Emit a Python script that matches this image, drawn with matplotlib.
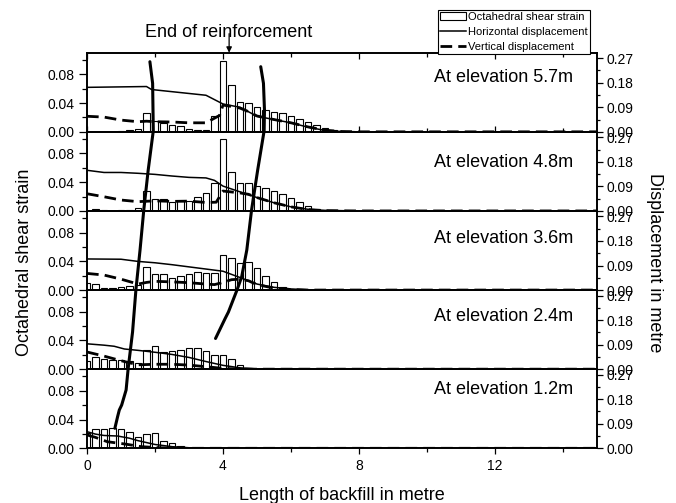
import numpy as np
import matplotlib
matplotlib.use("Agg")
import matplotlib.pyplot as plt
from matplotlib.patches import Patch
from matplotlib.lines import Line2D
from matplotlib.ticker import MultipleLocator, FixedLocator, FormatStrFormatter

plt.rcParams['font.family'] = ['Liberation Sans', 'DejaVu Sans']

# ---------------- data ----------------
elevations = ["At elevation 5.7m", "At elevation 4.8m", "At elevation 3.6m",
              "At elevation 2.4m", "At elevation 1.2m"]

bar_x = [0, 0.25, 0.5, 0.75, 1.0, 1.25, 1.5, 1.75, 2.0, 2.25, 2.5, 2.75, 3.0, 3.25, 3.5, 3.75,
         4.0, 4.25, 4.5, 4.75, 5.0, 5.25, 5.5, 5.75, 6.0, 6.25, 6.5, 6.75, 7.0, 7.25, 7.5, 7.75]

strain_57 = [0, 0, 0, 0, 0.0005, 0.0022, 0.0045, 0.026, 0.015, 0.012, 0.009, 0.0075, 0.0045, 0.0025, 0.002, 0.0226,
             0.098, 0.0645, 0.041, 0.0395, 0.035, 0.031, 0.028, 0.026, 0.0216, 0.018, 0.0136, 0.009, 0.005, 0.003, 0.0015, 0.0005]
strain_48 = [0, 0.0033, 0.001, 0.0005, 0.001, 0.002, 0.004, 0.028, 0.016, 0.016, 0.013, 0.0145, 0.0145, 0.019, 0.0246, 0.0386,
             0.100, 0.0535, 0.0386, 0.0386, 0.035, 0.0316, 0.0274, 0.0237, 0.0177, 0.0126, 0.0065, 0.0033, 0.002, 0.001, 0.0005, 0]
strain_36 = [0.0098, 0.0088, 0.0028, 0.0028, 0.0042, 0.0056, 0.0074, 0.0316, 0.0223, 0.0223, 0.0167, 0.0195, 0.0223, 0.025, 0.0237, 0.0233,
             0.0488, 0.0442, 0.038, 0.0386, 0.0307, 0.0195, 0.0107, 0.0042, 0.0014, 0.0005, 0, 0, 0, 0, 0, 0]
strain_24 = [0.0116, 0.0172, 0.014, 0.0126, 0.0126, 0.0112, 0.0084, 0.0265, 0.0316, 0.0242, 0.0256, 0.027, 0.0293, 0.0298, 0.0256, 0.02,
             0.0195, 0.0135, 0.0056, 0.001, 0, 0, 0, 0, 0, 0, 0, 0, 0, 0, 0, 0]
strain_12 = [0.021, 0.0274, 0.0274, 0.0288, 0.0274, 0.0228, 0.0153, 0.0195, 0.021, 0.0107, 0.0074, 0.0037, 0.001, 0, 0, 0,
             0, 0, 0, 0, 0, 0, 0, 0, 0, 0, 0, 0, 0, 0, 0, 0]

hor_x_57 = [0, 1.75, 1.9, 3.5, 4.0, 4.5, 5.0, 5.5, 6.0, 6.5, 7.0, 7.5, 8.0, 15]
hor_y_57 = [0.163, 0.166, 0.155, 0.134, 0.102, 0.090, 0.057, 0.045, 0.033, 0.017, 0.005, 0.001, 0, 0]
ver_x_57 = [0, 0.5, 1.0, 1.5, 1.75, 2.0, 2.5, 3.0, 3.5, 3.75, 3.9, 4.0, 4.25, 4.5, 4.75, 5.0, 5.5, 6.0, 6.5, 7.0, 7.5, 8, 15]
ver_y_57 = [0.057, 0.054, 0.043, 0.037, 0.039, 0.037, 0.036, 0.033, 0.033, 0.05, 0.06, 0.098, 0.093, 0.087, 0.074, 0.058,
            0.045, 0.033, 0.018, 0.006, 0.001, 0, 0]

hor_x_48 = [0, 0.5, 1, 1.5, 2, 2.5, 3, 3.5, 3.75, 4, 4.5, 5, 5.5, 6, 6.5, 7, 8, 15]
hor_y_48 = [0.149, 0.141, 0.141, 0.138, 0.134, 0.128, 0.123, 0.121, 0.112, 0.091, 0.070, 0.049, 0.030, 0.015, 0.006, 0.002, 0, 0]
ver_x_48 = [0, 0.5, 1, 1.5, 2, 2.5, 3, 3.5, 3.8, 4, 4.5, 4.75, 5, 5.5, 6, 6.5, 7, 8, 15]
ver_y_48 = [0.063, 0.052, 0.040, 0.034, 0.037, 0.035, 0.036, 0.031, 0.032, 0.073, 0.066, 0.061, 0.049, 0.030, 0.015, 0.005, 0.001, 0, 0]

hor_x_36 = [0, 1.0, 1.5, 2, 2.5, 3, 3.5, 4, 4.5, 5, 5.5, 6, 6.5, 7, 15]
hor_y_36 = [0.114, 0.113, 0.105, 0.100, 0.093, 0.085, 0.077, 0.069, 0.046, 0.022, 0.010, 0.004, 0.001, 0, 0]
ver_x_36 = [0, 0.5, 1, 1.5, 1.75, 2, 2.5, 3, 3.5, 3.75, 4, 4.25, 4.5, 4.75, 5, 5.5, 6, 6.5, 15]
ver_y_36 = [0.061, 0.055, 0.040, 0.022, 0.028, 0.032, 0.030, 0.027, 0.022, 0.020, 0.028, 0.038, 0.040, 0.034, 0.020, 0.007, 0.002, 0, 0]

hor_x_24 = [0, 0.5, 0.8, 1.1, 1.5, 2, 2.5, 3, 3.5, 4, 4.5, 5, 5.5, 15]
hor_y_24 = [0.093, 0.088, 0.084, 0.074, 0.069, 0.062, 0.054, 0.043, 0.028, 0.014, 0.005, 0.001, 0, 0]
ver_x_24 = [0, 0.5, 1, 1.5, 2, 2.5, 3, 3.5, 4, 4.5, 15]
ver_y_24 = [0.063, 0.048, 0.031, 0.016, 0.018, 0.018, 0.015, 0.009, 0.003, 0, 0]

hor_x_12 = [0, 0.25, 0.5, 0.9, 1.25, 1.5, 2.0, 2.5, 3.0, 3.5, 15]
hor_y_12 = [0.061, 0.052, 0.047, 0.045, 0.037, 0.028, 0.014, 0.006, 0.002, 0, 0]
ver_x_12 = [0, 0.25, 0.6, 1.1, 1.6, 2.0, 2.5, 15]
ver_y_12 = [0.049, 0.040, 0.024, 0.016, 0.006, 0.003, 0, 0]

# slip-surface curves across the stacked panels (x in metre, y in panel units: 0 = bottom panel base, 5 = top)
curveA_x = [1.85, 1.93, 1.95, 1.80, 1.67, 1.56, 1.44, 1.34, 1.21, 1.15, 1.02, 0.95, 0.90, 0.82]
curveA_y = [4.886, 4.613, 4.014, 3.517, 3.012, 2.506, 2.010, 1.470, 1.006, 0.737, 0.547, 0.484, 0.40, 0.253]
curveB_x = [5.11, 5.19, 5.22, 5.21, 5.02, 4.84, 4.70, 4.55, 4.42, 4.16, 4.06, 3.78]
curveB_y = [4.823, 4.613, 4.276, 4.014, 3.517, 3.012, 2.506, 2.169, 2.010, 1.723, 1.638, 1.388]

reinf_end_x = 4.18

strains = [strain_57, strain_48, strain_36, strain_24, strain_12]
hors = [(hor_x_57, hor_y_57), (hor_x_48, hor_y_48), (hor_x_36, hor_y_36), (hor_x_24, hor_y_24), (hor_x_12, hor_y_12)]
vers = [(ver_x_57, ver_y_57), (ver_x_48, ver_y_48), (ver_x_36, ver_y_36), (ver_x_24, ver_y_24), (ver_x_12, ver_y_12)]
label_y = [0.69, 0.61, 0.655, 0.662, 0.747]

# ---------------- figure ----------------
W, H = 676, 503
fig = plt.figure(figsize=(W / 100, H / 100), dpi=100)
L, R, B, T = 87 / W, 597 / W, 1 - 448.3 / H, 1 - 52.7 / H
axes = fig.subplots(5, 1, sharex=True, gridspec_kw=dict(hspace=0))
fig.subplots_adjust(left=L, right=R, bottom=B, top=T, hspace=0)

dash = (0, (4.2, 2.2))
for i, ax in enumerate(axes):
    ax.bar(bar_x, strains[i], width=0.2, facecolor='white', edgecolor='black', linewidth=0.8, zorder=2)
    ax.set_xlim(0, 15)
    ax.set_ylim(0, 0.11)
    ax.yaxis.set_major_locator(FixedLocator([0.0, 0.04, 0.08]))
    ax.yaxis.set_minor_locator(FixedLocator([0.02, 0.06, 0.10]))
    ax.yaxis.set_major_formatter(FormatStrFormatter('%.2f'))
    ax.xaxis.set_major_locator(MultipleLocator(4))
    ax.xaxis.set_minor_locator(MultipleLocator(2))
    ax.tick_params(axis='y', which='major', direction='out', length=6, width=0.9, labelsize=10, pad=3)
    ax.tick_params(axis='y', which='minor', direction='out', length=3.5, width=0.9)
    ax.tick_params(axis='x', which='both', direction='out', bottom=True, top=False, width=0.9)
    ax.tick_params(axis='x', which='major', length=4.5, labelsize=10, pad=3)
    ax.tick_params(axis='x', which='minor', length=3)
    for sp in ax.spines.values():
        sp.set_linewidth(1.2)
    ax2 = ax.twinx()
    ax2.set_ylim(0, 0.29)
    ax2.yaxis.set_major_locator(FixedLocator([0.0, 0.09, 0.18, 0.27]))
    ax2.yaxis.set_minor_locator(FixedLocator([0.045, 0.135, 0.225]))
    ax2.yaxis.set_major_formatter(FormatStrFormatter('%.2f'))
    ax2.tick_params(axis='y', which='major', direction='out', length=4.5, width=0.9, labelsize=10, pad=2)
    ax2.tick_params(axis='y', which='minor', direction='out', length=2.5, width=0.9)
    for sp in ax2.spines.values():
        sp.set_linewidth(1.2)
    ax2.plot(hors[i][0], hors[i][1], color='black', lw=1.1, zorder=3)
    ax2.plot(vers[i][0], vers[i][1], color='black', lw=2.0, ls=dash, zorder=3)
    ax2.text(0.816, label_y[i], elevations[i], transform=ax2.transAxes, ha='center', va='center', fontsize=13)

axes[0].tick_params(axis='x', which='both', top=True, direction='in')
axes[0].tick_params(axis='x', which='both', bottom=True)
for ax in axes[:-1]:
    ax.tick_params(axis='x', labelbottom=False)

# overlay for slip curves
ov = fig.add_axes([L, B, R - L, T - B])
ov.set_xlim(0, 15)
ov.set_ylim(0, 5)
ov.axis('off')
ov.plot(curveA_x, curveA_y, color='black', lw=2.2, solid_capstyle='round')
ov.plot(curveB_x, curveB_y, color='black', lw=2.2, solid_capstyle='round')

# annotation
axes[0].annotate('', xy=(reinf_end_x, 1.0), xycoords=('data', 'axes fraction'),
                 xytext=(reinf_end_x, 1.0 + 19 / 79), textcoords=('data', 'axes fraction'),
                 arrowprops=dict(arrowstyle='-|>', color='black', lw=0.9, mutation_scale=8, shrinkA=0, shrinkB=0))
axes[0].text(reinf_end_x, 1.0 + 16 / 79, 'End of reinforcement', transform=axes[0].get_xaxis_transform(),
             ha='center', va='baseline', fontsize=13)

# axis labels
fig.text(25 / W, 1 - 262.5 / H, 'Octahedral shear strain', rotation=90, ha='center', va='center', fontsize=13)
fig.text(655 / W, 1 - 262.5 / H, 'Displacement in metre', rotation=270, ha='center', va='center', fontsize=13)
fig.text(342 / W, 1 - 496 / H, 'Length of backfill in metre', ha='center', va='center', fontsize=13)

# legend
handles = [Patch(facecolor='white', edgecolor='black', linewidth=0.8),
           Line2D([], [], color='black', lw=1.1),
           Line2D([], [], color='black', lw=2.0, ls=dash)]
labels = ['Octahedral shear strain', 'Horizontal displacement', 'Vertical displacement']
leg = fig.legend(handles, labels, loc='upper right', bbox_to_anchor=(590 / W, 1 - 10 / H),
                 fontsize=8, frameon=True, fancybox=False, edgecolor='black', framealpha=1,
                 borderpad=0.2, labelspacing=0.42, handlelength=2.3, handletextpad=0.2, borderaxespad=0)
leg.get_frame().set_linewidth(0.8)

fig.savefig('out.png', dpi=100)
